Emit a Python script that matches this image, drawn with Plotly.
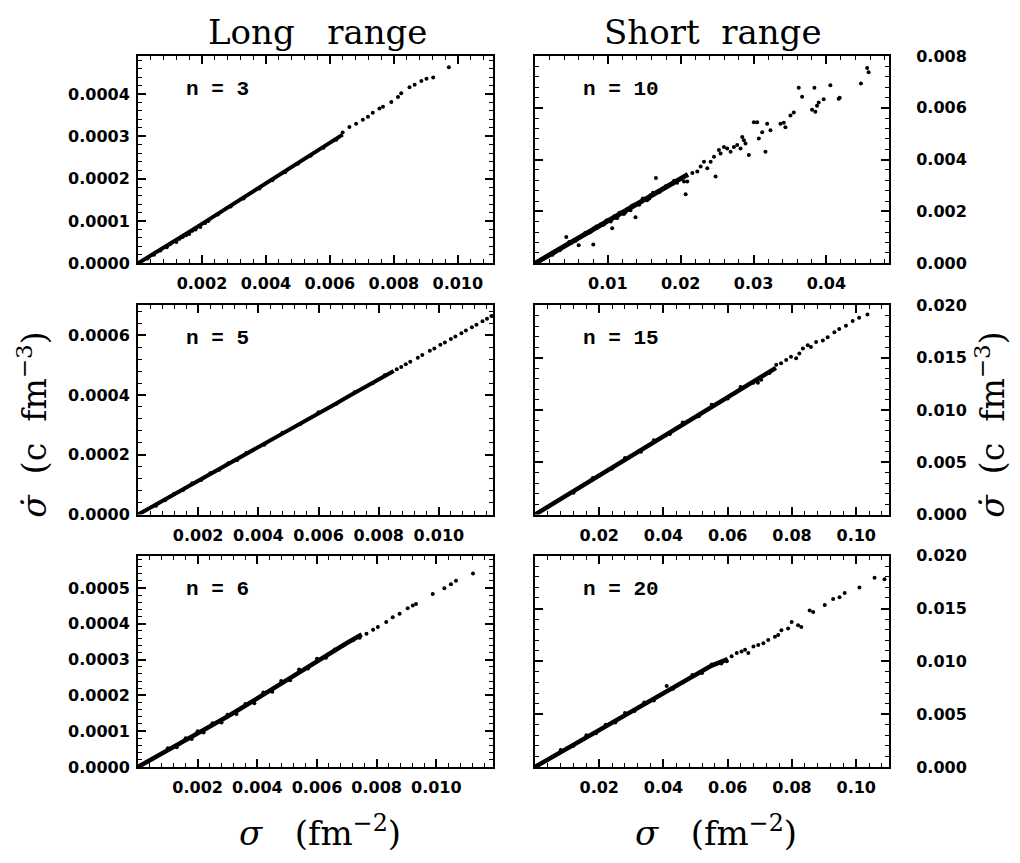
import numpy as np
import plotly.graph_objects as go

# Long-range panels: sigma in units of 1e-3 fm^-2, sigma-dot in units of 1e-4 c fm^-3
LONG_X = 1e-3
LONG_Y = 1e-4

# ---------------- n = 3 (long range) ----------------
n3_band_x = [0, 0.4, 0.8, 1.2, 1.6, 2.0, 2.4, 2.8, 3.2, 3.6, 4.0, 4.4, 4.8, 5.2, 5.6, 6.0, 6.4]
n3_band_y = [0, 0.18, 0.37, 0.55, 0.74, 0.93, 1.12, 1.31, 1.50, 1.69, 1.88, 2.07, 2.26, 2.46, 2.65, 2.84, 3.04]
n3_pts_x = [0.3, 0.5, 0.7, 0.9, 1.0, 1.2, 1.3, 1.4, 1.5, 1.6, 1.7, 1.8, 1.95, 2.1, 2.2, 2.5, 2.9,
            3.3, 3.8, 4.2, 4.6, 5.0, 5.4, 5.8, 6.2, 6.40, 6.61, 6.82, 7.03, 7.19, 7.34, 7.55,
            7.66, 7.92, 8.13, 8.23, 8.49, 8.65, 8.86, 9.02, 9.23, 9.72]
n3_pts_y = [0.11, 0.20, 0.30, 0.38, 0.45, 0.50, 0.58, 0.62, 0.66, 0.69, 0.77, 0.80, 0.86, 0.95, 1.00,
            1.15, 1.34, 1.53, 1.77, 1.96, 2.15, 2.35, 2.54, 2.73, 2.92, 3.09, 3.22, 3.30, 3.39,
            3.46, 3.56, 3.66, 3.70, 3.81, 3.93, 4.02, 4.16, 4.22, 4.31, 4.36, 4.39, 4.63]

# ---------------- n = 5 (long range) ----------------
n5_band_x = [0, 0.5, 1.0, 1.5, 2.0, 2.5, 3.0, 3.5, 4.0, 4.5, 5.0, 5.5, 6.0, 6.5, 7.0, 7.5, 8.0, 8.5]
n5_band_y = [0, 0.28, 0.56, 0.85, 1.13, 1.41, 1.70, 1.98, 2.26, 2.54, 2.83, 3.11, 3.39, 3.67,
             3.96, 4.24, 4.52, 4.80]
n5_pts_x = [0.6, 0.9, 1.2, 1.5, 1.8, 2.1, 2.4, 2.7, 3.0, 3.3, 3.6, 4.2, 4.8, 5.4, 6.0, 6.6, 7.2,
            7.8, 8.2, 8.6, 8.75, 8.9, 9.05, 9.3, 9.45, 9.7, 9.85, 10.05, 10.2, 10.4, 10.55,
            10.75, 10.9, 11.1, 11.25, 11.45, 11.6, 11.75]
n5_pts_y = [0.30, 0.48, 0.70, 0.82, 1.05, 1.16, 1.38, 1.50, 1.72, 1.83, 2.06, 2.34, 2.74, 3.03,
            3.42, 3.71, 4.09, 4.39, 4.66, 4.86, 4.94, 5.03, 5.11, 5.25, 5.34, 5.48, 5.56, 5.68,
            5.76, 5.87, 5.96, 6.07, 6.16, 6.27, 6.35, 6.47, 6.55, 6.64]

# ---------------- n = 6 (long range) ----------------
n6_band_x = [0, 0.5, 1.0, 1.5, 2.0, 2.5, 3.0, 3.5, 4.0, 4.5, 5.0, 5.5, 6.0, 6.5, 7.0, 7.5]
n6_band_y = [0, 0.23, 0.46, 0.69, 0.92, 1.16, 1.41, 1.66, 1.92, 2.18, 2.44, 2.70, 2.96, 3.21,
             3.46, 3.70]
n6_pts_x = [1.0, 1.3, 1.6, 1.8, 2.0, 2.2, 2.5, 2.8, 3.0, 3.3, 3.6, 3.9, 4.2, 4.5, 4.8, 5.1, 5.4,
            5.7, 6.0, 6.3, 6.6, 6.9, 7.21, 7.43, 7.66, 7.88, 8.04, 8.32, 8.54, 8.77, 9.04,
            9.21, 9.32, 9.88, 10.27, 10.49, 10.66, 11.23]
n6_pts_y = [0.52, 0.55, 0.80, 0.78, 1.00, 0.96, 1.22, 1.24, 1.46, 1.48, 1.76, 1.78, 2.08, 2.10,
            2.40, 2.42, 2.72, 2.75, 3.02, 3.05, 3.28, 3.40, 3.54, 3.61, 3.72, 3.83, 3.91, 4.05,
            4.18, 4.28, 4.43, 4.51, 4.55, 4.83, 4.99, 5.10, 5.20, 5.40]

# ---------------- n = 10 (short range) ----------------
n10_band_x = [0, 0.003, 0.006, 0.009, 0.012, 0.015, 0.018, 0.021]
n10_band_y = [0, 0.00049, 0.00098, 0.00147, 0.00196, 0.00245, 0.00294, 0.00343]
n10_pts_x = [0.0008, 0.0013, 0.0018, 0.0022, 0.0027, 0.0031, 0.0036, 0.0040, 0.0043, 0.0045,
             0.0050, 0.0054, 0.0058, 0.0060, 0.0063, 0.0067, 0.0072, 0.0077, 0.0080, 0.0081,
             0.0086, 0.0090, 0.0095, 0.0100, 0.0104, 0.0106, 0.0109, 0.0113, 0.0118, 0.0122,
             0.0127, 0.0131, 0.0136, 0.0138, 0.0141, 0.0145, 0.0150, 0.0154, 0.0159, 0.0164,
             0.0166, 0.0168, 0.0173, 0.0177, 0.0182, 0.0186, 0.0191, 0.0195, 0.0200,
             0.0024, 0.0034, 0.0047, 0.0056, 0.0069, 0.0075, 0.0084, 0.0093, 0.0098, 0.0111,
             0.0116, 0.0124, 0.0133, 0.0143, 0.0148, 0.0157, 0.0162, 0.0171, 0.0180, 0.0189,
             0.02046, 0.02068, 0.02091, 0.0216, 0.02228, 0.02274, 0.0232, 0.02365, 0.02411,
             0.02457, 0.02479, 0.02525, 0.02548, 0.02594, 0.02639, 0.02685, 0.02731, 0.02776,
             0.02822, 0.02845, 0.02868, 0.0289, 0.02936, 0.03005, 0.0305, 0.03073, 0.03119,
             0.03164, 0.03187, 0.03233, 0.0337, 0.03416, 0.03438, 0.03507, 0.03553, 0.03621,
             0.03667, 0.03804, 0.03836, 0.03849, 0.03872, 0.03895, 0.03963, 0.04055, 0.04169,
             0.04183, 0.04475, 0.0456, 0.0458]
n10_pts_y = [0.00012, 0.00020, 0.00027, 0.00036, 0.00042, 0.00052, 0.00057, 0.00065, 0.00101,
             0.00072, 0.00079, 0.00090, 0.00093, 0.00070, 0.00103, 0.00108, 0.00119, 0.00123,
             0.00072, 0.00135, 0.00138, 0.00150, 0.00152, 0.00166, 0.00161, 0.00135, 0.00181,
             0.00175, 0.00195, 0.00190, 0.00209, 0.00205, 0.00226, 0.00178, 0.00231, 0.00236,
             0.00248, 0.00243, 0.00263, 0.00266, 0.00329, 0.00277, 0.00284, 0.00291, 0.00299,
             0.00305, 0.00318, 0.00311, 0.00326,
             0.00033, 0.00050, 0.00082, 0.00087, 0.00117, 0.00119, 0.00142, 0.00148, 0.00165,
             0.00176, 0.00195, 0.00196, 0.00222, 0.00226, 0.00250, 0.00250, 0.00272, 0.00275,
             0.00298, 0.00306,
             0.00316, 0.00266, 0.00316, 0.00348, 0.00354, 0.00373, 0.00392, 0.00367, 0.00392,
             0.00411, 0.00335, 0.00437, 0.00424, 0.00449, 0.00443, 0.00430, 0.00449, 0.00456,
             0.00443, 0.00487, 0.00475, 0.00462, 0.00418, 0.00544, 0.00544, 0.00481, 0.00506,
             0.00430, 0.00538, 0.00513, 0.00538, 0.00542, 0.00525, 0.00570, 0.00582, 0.00677,
             0.00643, 0.00592, 0.00677, 0.00585, 0.00608, 0.00620, 0.00633, 0.00687, 0.00635,
             0.00639, 0.00694, 0.00753, 0.00737]

# ---------------- n = 15 (short range) ----------------
n15_band_x = [0, 0.005, 0.010, 0.015, 0.020, 0.025, 0.030, 0.035, 0.040, 0.045, 0.050, 0.055,
              0.060, 0.065, 0.070, 0.075]
n15_band_y = [0, 0.00094, 0.00187, 0.00280, 0.00374, 0.00468, 0.00561, 0.00655, 0.00748,
              0.00842, 0.00935, 0.01029, 0.01122, 0.01216, 0.01309, 0.01403]
n15_pts_x = [0.012, 0.018, 0.024, 0.028, 0.033, 0.037, 0.042, 0.046, 0.051, 0.055, 0.060, 0.064,
             0.068, 0.0694, 0.0704, 0.073, 0.0751, 0.0766, 0.0782, 0.0797, 0.0813, 0.0823,
             0.0834, 0.0849, 0.0859, 0.0875, 0.0896, 0.0911, 0.0932, 0.0947, 0.0968, 0.0989,
             0.1009, 0.1035]
n15_pts_y = [0.0021, 0.0035, 0.0044, 0.0054, 0.0060, 0.0071, 0.0077, 0.0088, 0.0094, 0.0105,
             0.0111, 0.0122, 0.0126, 0.0126, 0.0129, 0.01354, 0.01432, 0.01447, 0.01478,
             0.01509, 0.01494, 0.0154, 0.01587, 0.01618, 0.01602, 0.01649, 0.01665, 0.01696,
             0.01742, 0.01773, 0.01804, 0.01851, 0.01882, 0.01913]

# ---------------- n = 20 (short range) ----------------
n20_band_x = [0, 0.005, 0.010, 0.015, 0.020, 0.025, 0.030, 0.035, 0.040, 0.045, 0.050, 0.055,
              0.060]
n20_band_y = [0, 0.00088, 0.00176, 0.00265, 0.00354, 0.00440, 0.00528, 0.00616, 0.00705,
              0.00790, 0.00875, 0.00960, 0.01020]
n20_pts_x = [0.008, 0.012, 0.016, 0.019, 0.022, 0.025, 0.028, 0.031, 0.034, 0.037, 0.041, 0.043,
             0.046, 0.049, 0.052, 0.055, 0.058, 0.0597, 0.0612, 0.0628, 0.0643, 0.0654, 0.0664,
             0.068, 0.0695, 0.0711, 0.0726, 0.0747, 0.0757, 0.0767, 0.0788, 0.0799, 0.0819,
             0.0829, 0.0855, 0.0866, 0.0902, 0.0928, 0.0948, 0.0964, 0.101, 0.1057, 0.1088]
n20_pts_y = [0.0016, 0.0020, 0.0030, 0.0032, 0.0040, 0.0042, 0.0051, 0.0053, 0.0061, 0.0063,
             0.00767, 0.0074, 0.0080, 0.0087, 0.0089, 0.0097, 0.0098, 0.0100, 0.01047, 0.01078,
             0.01093, 0.01109, 0.01078, 0.0114, 0.01155, 0.01171, 0.01202, 0.01233, 0.01248,
             0.01295, 0.01311, 0.01373, 0.01342, 0.01326, 0.01481, 0.01466, 0.01534, 0.0159,
             0.01606, 0.01646, 0.01699, 0.01792, 0.01776]

# Tick values
long_x_ticks = [0.002, 0.004, 0.006, 0.008, 0.010]
n3_y_ticks = [0.0, 0.0001, 0.0002, 0.0003, 0.0004]
n5_y_ticks = [0.0, 0.0002, 0.0004, 0.0006]
n6_y_ticks = [0.0, 0.0001, 0.0002, 0.0003, 0.0004, 0.0005]
n10_x_ticks = [0.01, 0.02, 0.03, 0.04]
n10_y_ticks = [0.0, 0.002, 0.004, 0.006, 0.008]
short_x_ticks = [0.02, 0.04, 0.06, 0.08, 0.10]
short_y_ticks = [0.0, 0.005, 0.010, 0.015, 0.020]

panels = [
    dict(label="n = 3", col="L", row=0, bw=4,
         band=(np.array(n3_band_x) * LONG_X, np.array(n3_band_y) * LONG_Y),
         pts=(np.array(n3_pts_x) * LONG_X, np.array(n3_pts_y) * LONG_Y),
         xr=[0, 0.0111], yr=[0, 0.00049], xt=long_x_ticks, xf=".3f", xm=0.0004,
         yt=n3_y_ticks, yf=".4f", ym=0.00002),
    dict(label="n = 10", col="R", row=0, bw=5,
         band=(n10_band_x, n10_band_y), pts=(n10_pts_x, n10_pts_y),
         xr=[0, 0.0486], yr=[0, 0.008], xt=n10_x_ticks, xf=".2f", xm=0.002,
         yt=n10_y_ticks, yf=".3f", ym=0.0004),
    dict(label="n = 5", col="L", row=1, bw=4,
         band=(np.array(n5_band_x) * LONG_X, np.array(n5_band_y) * LONG_Y),
         pts=(np.array(n5_pts_x) * LONG_X, np.array(n5_pts_y) * LONG_Y),
         xr=[0, 0.0118], yr=[0, 0.0007], xt=long_x_ticks, xf=".3f", xm=0.0004,
         yt=n5_y_ticks, yf=".4f", ym=0.00004),
    dict(label="n = 15", col="R", row=1, bw=4.5,
         band=(n15_band_x, n15_band_y), pts=(n15_pts_x, n15_pts_y),
         xr=[0, 0.1102], yr=[0, 0.02], xt=short_x_ticks, xf=".2f", xm=0.004,
         yt=short_y_ticks, yf=".3f", ym=0.001),
    dict(label="n = 6", col="L", row=2, bw=4.5,
         band=(np.array(n6_band_x) * LONG_X, np.array(n6_band_y) * LONG_Y),
         pts=(np.array(n6_pts_x) * LONG_X, np.array(n6_pts_y) * LONG_Y),
         xr=[0, 0.0119], yr=[0, 0.00059], xt=long_x_ticks, xf=".3f", xm=0.0004,
         yt=n6_y_ticks, yf=".4f", ym=0.00002),
    dict(label="n = 20", col="R", row=2, bw=4.5,
         band=(n20_band_x, n20_band_y), pts=(n20_pts_x, n20_pts_y),
         xr=[0, 0.1102], yr=[0, 0.02], xt=short_x_ticks, xf=".2f", xm=0.004,
         yt=short_y_ticks, yf=".3f", ym=0.001),
]

W, H = 1020, 863
col_dom = {"L": [138 / W, 493 / W], "R": [535 / W, 889 / W]}
row_dom = [[1 - 260 / H, 1 - 48 / H], [1 - 517 / H, 1 - 303 / H], [1 - 775 / H, 1 - 559 / H]]

tick_font = dict(family="DejaVu Sans", size=16, color="black", weight="bold")
serif = "DejaVu Serif"

fig = go.Figure()
layout = dict(width=W, height=H, margin=dict(l=0, r=0, t=0, b=0),
              paper_bgcolor="white", plot_bgcolor="white", showlegend=False,
              annotations=[])

for i, p in enumerate(panels, start=1):
    suffix = "" if i == 1 else str(i)
    xa, ya = "x" + suffix, "y" + suffix
    fig.add_trace(go.Scatter(x=p["band"][0], y=p["band"][1], mode="lines",
                             line=dict(color="black", width=p["bw"]),
                             xaxis=xa, yaxis=ya, hoverinfo="skip"))
    fig.add_trace(go.Scatter(x=p["pts"][0], y=p["pts"][1], mode="markers",
                             marker=dict(color="black", size=4, line=dict(width=0)),
                             xaxis=xa, yaxis=ya))
    common = dict(showline=True, linecolor="black", linewidth=2, mirror="allticks",
                  ticks="inside", ticklen=8, tickwidth=1.5, tickcolor="black",
                  showgrid=False, zeroline=False, tickfont=tick_font, fixedrange=True)
    layout["xaxis" + suffix] = dict(common, domain=col_dom[p["col"]], range=p["xr"], anchor=ya,
                                    tickmode="array", tickvals=p["xt"], tickformat=p["xf"],
                                    ticklabelstandoff=5,
                                    minor=dict(tickmode="linear", tick0=0, dtick=p["xm"],
                                               ticks="inside", ticklen=4, tickwidth=1,
                                               tickcolor="black"))
    layout["yaxis" + suffix] = dict(common, domain=row_dom[p["row"]], range=p["yr"], anchor=xa,
                                    side="left" if p["col"] == "L" else "right",
                                    tickmode="array", tickvals=p["yt"], tickformat=p["yf"],
                                    ticklabelstandoff=3 if p["col"] == "L" else 22,
                                    minor=dict(tickmode="linear", tick0=0, dtick=p["ym"],
                                               ticks="inside", ticklen=4, tickwidth=1,
                                               tickcolor="black"))
    layout["annotations"].append(dict(
        text=p["label"], xref=xa + " domain", yref=ya + " domain", x=0.13, y=0.84,
        xanchor="left", yanchor="middle", showarrow=False,
        font=dict(family="Liberation Mono", size=21, color="black", weight="bold")))

nb = "\u00a0"
# Column headings
for text, xc in [("Long" + nb * 3 + "range", 317), ("Short" + nb * 2 + "range", 713)]:
    layout["annotations"].append(dict(
        text=text, xref="paper", yref="paper", x=xc / W, y=1 - 24 / H,
        xanchor="center", yanchor="middle", showarrow=False,
        font=dict(family=serif, size=34, color="black")))

# Axis titles
xlabel = "<i>σ</i>" + nb * 3 + "(fm<sup>−2</sup>)"
for xc in (320, 716):
    layout["annotations"].append(dict(
        text=xlabel, xref="paper", yref="paper", x=xc / W, y=1 - 840 / H,
        xanchor="center", yanchor="middle", showarrow=False,
        font=dict(family=serif, size=34, color="black")))

ylabel = "<i>σ\u0307</i>" + nb * 2 + "(c" + nb * 2 + "fm<sup>−3</sup>)"
for xc in (33, 991):
    layout["annotations"].append(dict(
        text=ylabel, xref="paper", yref="paper", x=xc / W, y=1 - 425 / H,
        xanchor="center", yanchor="middle", textangle=-90, showarrow=False,
        font=dict(family=serif, size=33, color="black")))

fig.update_layout(**layout)
fig.write_html("out.html")
